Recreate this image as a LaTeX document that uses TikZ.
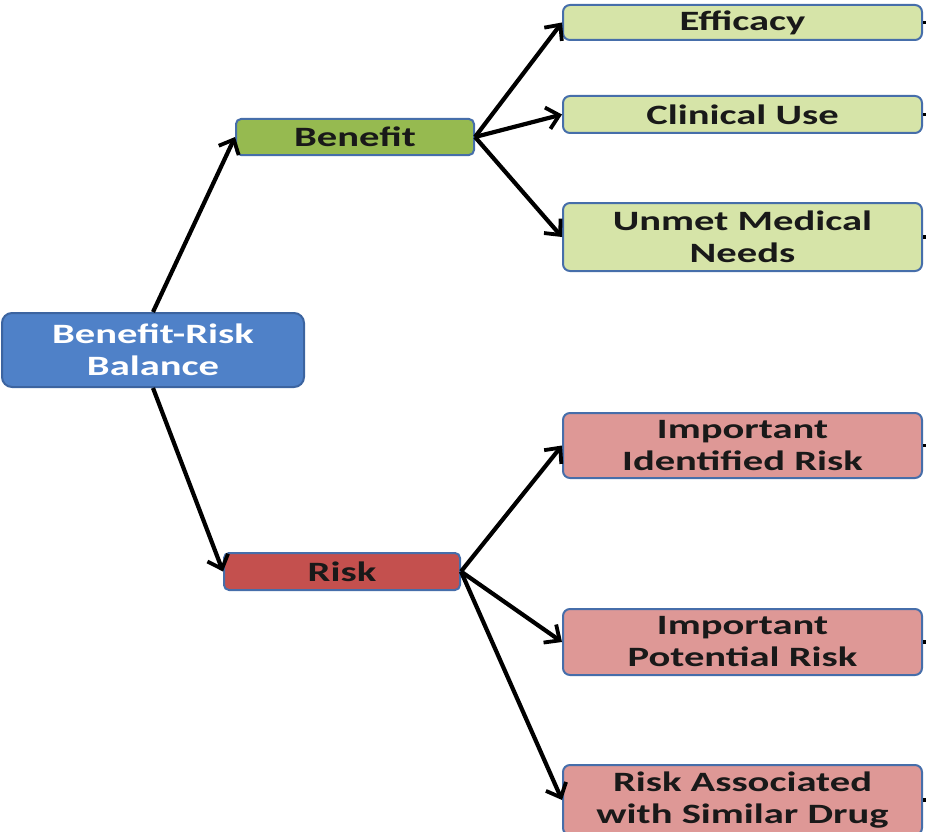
\documentclass[tikz,border=0pt]{standalone}
\usepackage{fontspec}
\setmainfont{Carlito}[FakeStretch=1.45]
\usetikzlibrary{arrows.meta}
\definecolor{rootfill}{RGB}{79,129,200}
\definecolor{rootdraw}{RGB}{60,100,160}
\definecolor{benfill}{RGB}{150,186,80}
\definecolor{lgfill}{RGB}{214,228,168}
\definecolor{riskfill}{RGB}{196,80,78}
\definecolor{pinkfill}{RGB}{222,152,150}
\definecolor{boxdraw}{RGB}{70,110,170}
\definecolor{txt}{RGB}{25,25,25}
\tikzset{
  x=1pt, y=1pt,
  box/.style={draw=boxdraw, line width=2pt, rounded corners=7pt, align=center,
    inner sep=0pt, text=txt, font=\fontsize{28}{32}\selectfont\bfseries},
  rootbox/.style={box, fill=rootfill, draw=rootdraw, text=white, rounded corners=10pt},
  midbox/.style={box, rounded corners=5pt},
  conn/.style={line width=4.2pt, black, -{Straight Barb[length=12pt,width=22pt,line width=3.8pt]}},
  stub/.style={line width=3.5pt, black}
}
\begin{document}
\begin{tikzpicture}
\useasboundingbox (0,0) rectangle (926,-832);
\node[rootbox, minimum width=302, minimum height=74] (root) at (153,-350) {Benefit-Risk\\Balance};
\node[midbox, fill=benfill, minimum width=238, minimum height=36] (ben) at (355,-137) {Benefit};
\node[midbox, fill=riskfill, minimum width=236, minimum height=37] (risk) at (342,-571.5) {Risk};
\node[box, fill=lgfill, minimum width=359, minimum height=35] (eff) at (742.5,-22.5) {Efficacy};
\node[box, fill=lgfill, minimum width=359, minimum height=37] (clin) at (742.5,-114.5) {Clinical Use};
\node[box, fill=lgfill, minimum width=359, minimum height=68] (unmet) at (742.5,-237) {Unmet Medical\\Needs};
\node[box, fill=pinkfill, minimum width=359, minimum height=65] (iir) at (742.5,-445.5) {Important\\Identified Risk};
\node[box, fill=pinkfill, minimum width=359, minimum height=66] (ipr) at (742.5,-642) {Important\\Potential Risk};
\node[box, fill=pinkfill, minimum width=359, minimum height=70] (rasd) at (742.5,-800) {Risk Associated\\with Similar Drug};
\draw[conn] (root.north) -- (ben.west);
\draw[conn] (root.south) -- (risk.west);
\draw[conn] (ben.east) -- (eff.west);
\draw[conn] (ben.east) -- (clin.west);
\draw[conn] (ben.east) -- (unmet.west);
\draw[conn] (risk.east) -- (iir.west);
\draw[conn] (risk.east) -- (ipr.west);
\draw[conn] (risk.east) -- (rasd.west);
\coordinate (s1) at (930,-22.5);
\coordinate (s2) at (930,-114.5);
\coordinate (s3) at (930,-237);
\coordinate (s4) at (930,-445.5);
\coordinate (s5) at (930,-642);
\coordinate (s6) at (930,-800);
\draw[stub] (eff.east) -- (s1);
\draw[stub] (clin.east) -- (s2);
\draw[stub] (unmet.east) -- (s3);
\draw[stub] (iir.east) -- (s4);
\draw[stub] (ipr.east) -- (s5);
\draw[stub] (rasd.east) -- (s6);
\end{tikzpicture}
\end{document}
